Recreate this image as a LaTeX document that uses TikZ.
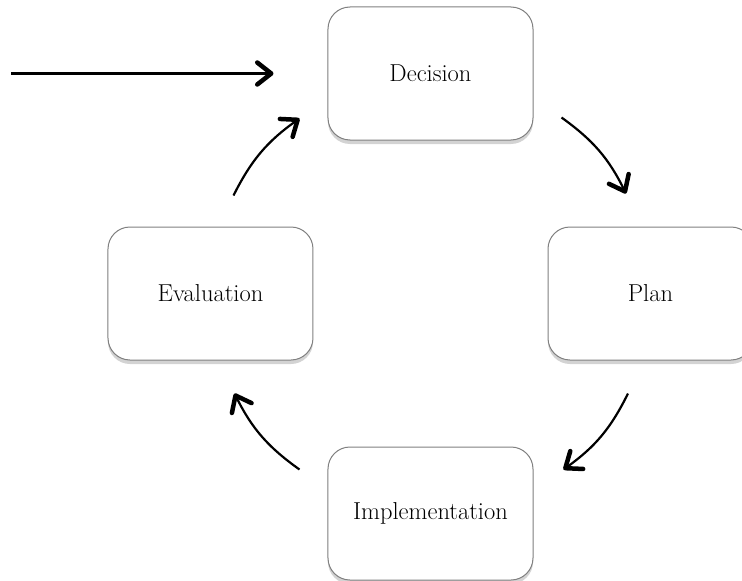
\documentclass[tikz,border=0pt]{standalone}
\usepackage{tikz}
\usetikzlibrary{positioning,arrows.meta,shadows}

\begin{document}
\begin{tikzpicture}
    [node distance=86pt and 14pt,
     b/.style={rectangle,rounded corners=22pt,draw=black!50,line width=1pt,fill=white,
               minimum width=205pt,minimum height=133pt,inner sep=0pt,
               font=\fontsize{24.5}{29}\selectfont,
               drop shadow={shadow xshift=0pt,shadow yshift=-4pt,opacity=.35}},
     v/.style={-{Straight Barb[length=14pt,width=22pt,line width=4.5pt,round]},line width=2.2pt}]
    \useasboundingbox (-430.5pt,73.5pt) rectangle (311.5pt,-507.5pt);
    \node[b] (dd) at (0,0) {Decision};
    \node[b] (ee) [below left =of dd] {Evaluation};
    \node[b] (pp) [below right =of dd] {Plan};
    \node[b] (ii) [below right =of ee] {Implementation};
    % ends of the cycle arrows
    \coordinate (st) at ([xshift=-316pt]dd.west);
    \coordinate (e1) at ([shift={(23pt,31pt)}]ee.north);
    \coordinate (d1) at ([shift={(-28pt,22pt)}]dd.south west);
    \coordinate (d2) at ([shift={(28pt,23pt)}]dd.south east);
    \coordinate (p1) at ([shift={(-24.5pt,33pt)}]pp.north);
    \coordinate (p2) at ([shift={(-22.5pt,-33pt)}]pp.south);
    \coordinate (i1) at ([shift={(30pt,-23pt)}]ii.north east);
    \coordinate (i2) at ([shift={(-28pt,-23pt)}]ii.north west);
    \coordinate (e2) at ([shift={(24pt,-33pt)}]ee.south);
    \path[v,line width=3pt] (st) edge[shorten >=54pt] (dd);
    \path[v] (e1) edge[bend left=14] (d1)
             (d2) edge[bend left=14] (p1)
             (p2) edge[bend left=14] (i1)
             (i2) edge[bend left=14] (e2);
\end{tikzpicture}
\end{document}
